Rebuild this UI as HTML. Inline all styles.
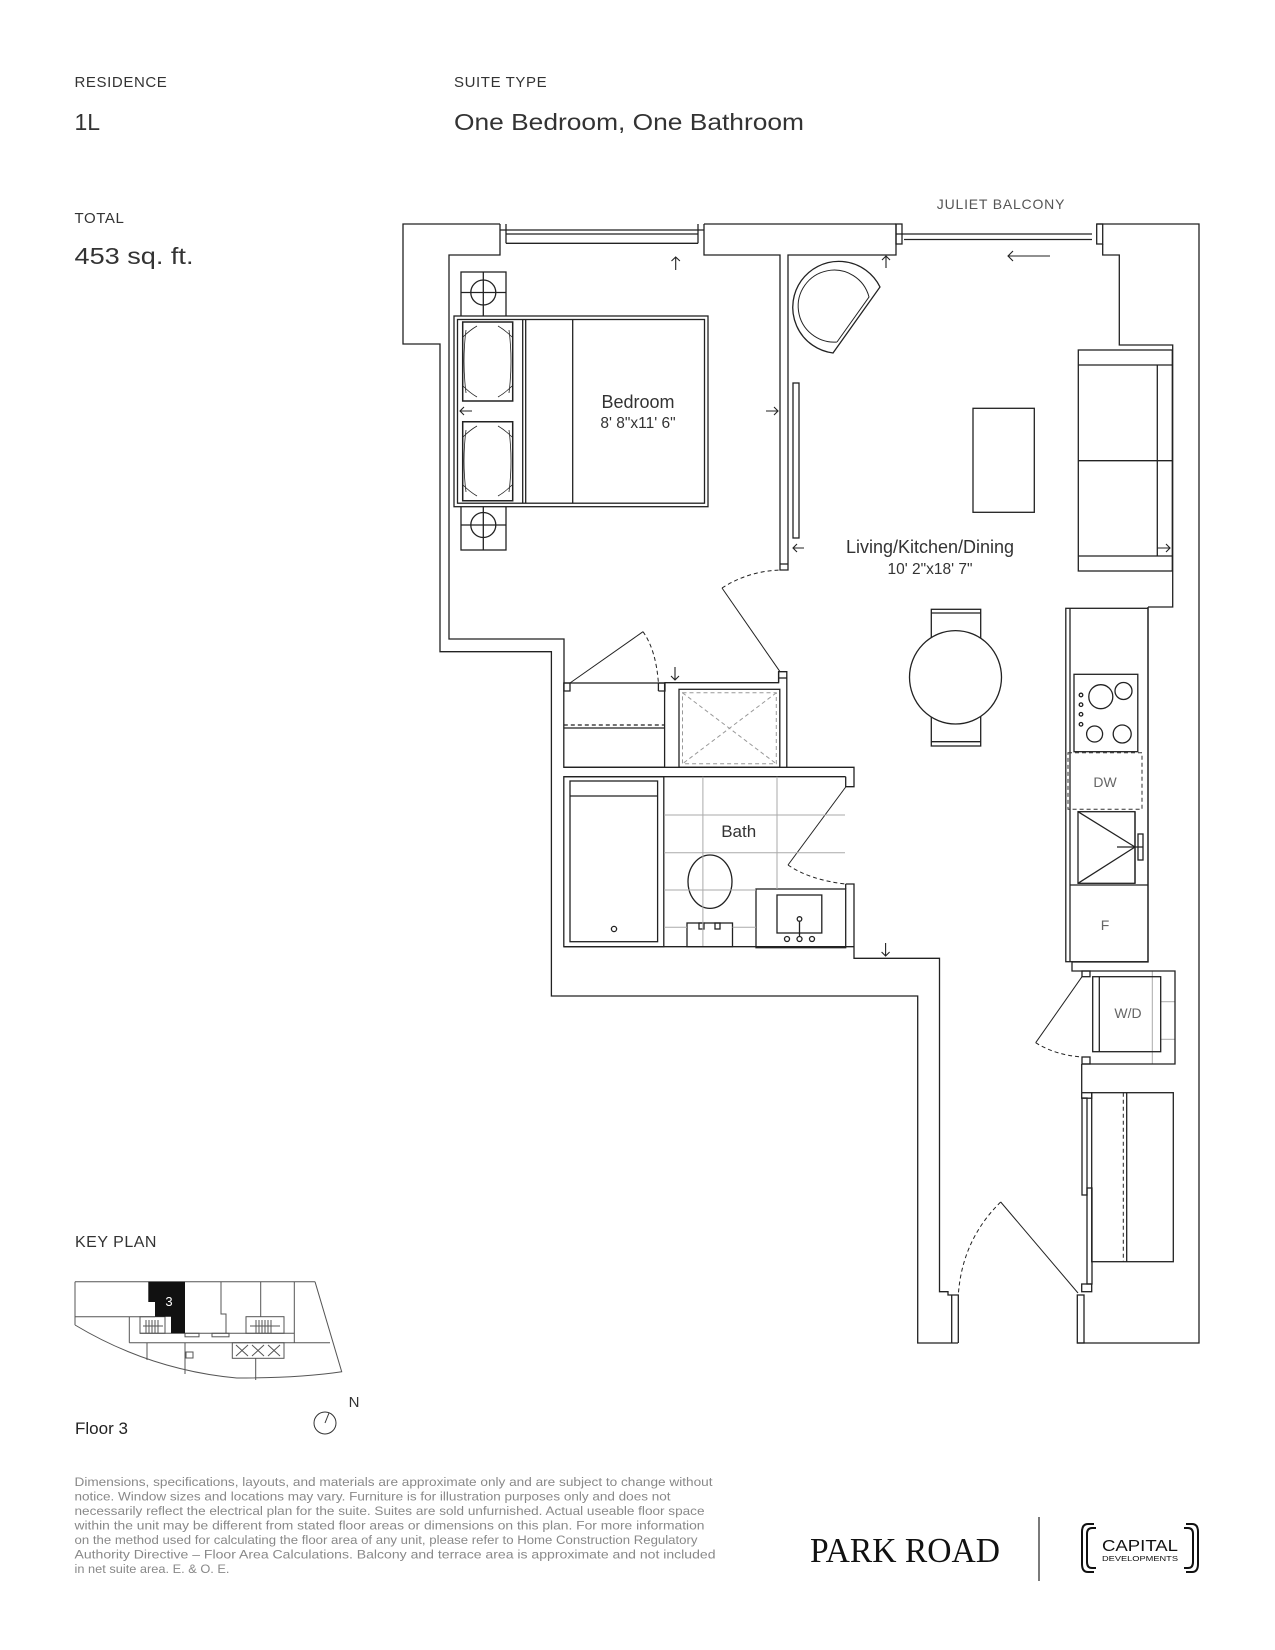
<!DOCTYPE html>
<html><head><meta charset="utf-8"><style>
html,body{margin:0;padding:0;background:#fff;}
svg{display:block;}
</style></head><body>
<svg width="1275" height="1650" viewBox="0 0 1275 1650" xmlns="http://www.w3.org/2000/svg" font-family="Liberation Sans, sans-serif">
<g fill="#333">
<text x="74.5" y="87" font-size="15" letter-spacing="0.6">RESIDENCE</text>
<text x="74.5" y="130" font-size="23">1L</text>
<text x="454" y="87" font-size="15" letter-spacing="0.6">SUITE TYPE</text>
<text x="454" y="130" font-size="23" textLength="350" lengthAdjust="spacingAndGlyphs">One Bedroom, One Bathroom</text>
<text x="74.5" y="223" font-size="15" letter-spacing="0.6">TOTAL</text>
<text x="74.5" y="264" font-size="23" textLength="119" lengthAdjust="spacingAndGlyphs">453 sq. ft.</text>
<text x="1001" y="209" font-size="14" fill="#555" text-anchor="middle" letter-spacing="0.8">JULIET BALCONY</text>
</g>

<g fill="none" stroke="#222" stroke-width="1.3">
<polyline points="500,224 403,224 403,344 440,344 440,651.7 551.4,651.7 551.4,996 917.7,996 917.7,1343 958,1343"/>
<polyline points="704,224 896,224"/>
<polyline points="1097,224 1199,224 1199,1343 1077,1343"/>
<polyline points="500,224 500,255 449,255 449,639 564,639 564,691 570,691 570,683 564,683"/>
<polyline points="704,224 704,255 780,255 780,570 788,570 788,255 896,255 896,224"/>
<line x1="780" y1="564" x2="788" y2="564"/>
<line x1="500" y1="230" x2="704" y2="230"/><line x1="506" y1="234" x2="698" y2="234"/><line x1="506" y1="243.3" x2="698" y2="243.3"/>
<line x1="506" y1="224" x2="506" y2="243.3"/><line x1="698" y1="224" x2="698" y2="243.3"/>
<line x1="896" y1="234" x2="1092" y2="234"/><line x1="904" y1="239.5" x2="1092" y2="239.5"/>
<rect x="1096.7" y="224" width="6" height="20"/>
<rect x="896" y="224" width="6" height="20"/>
<polyline points="1102.7,244 1102.7,255 1119.3,255 1119.3,345 1172.7,345 1172.7,607 1148,607"/>
<polyline points="658.4,691 665,691 665,682.7 778.6,682.7 778.6,671.7 786.8,671.7 786.8,767.3 854,767.3 854,786.7 845.7,786.7 845.7,776.7"/>
<line x1="658.4" y1="683" x2="665" y2="683"/><line x1="658.4" y1="683" x2="658.4" y2="691"/>
<line x1="778.6" y1="678" x2="786.8" y2="678"/><line x1="778.6" y1="671.7" x2="778.6" y2="682.7"/>
<rect x="563.8" y="683" width="100.8" height="84.3"/>
<line x1="563.8" y1="728" x2="664.6" y2="728"/>
<line x1="563.8" y1="725" x2="664.6" y2="725" stroke-dasharray="4,3"/>
<rect x="679" y="689.3" width="100.8" height="78"/>
<line x1="563.8" y1="767.3" x2="786.8" y2="767.3"/>
<line x1="563.8" y1="776.7" x2="845.7" y2="776.7"/>
<rect x="563.8" y="776.7" width="100" height="170"/>
<rect x="570" y="781" width="87.6" height="160.7"/>
<line x1="570" y1="796" x2="657.6" y2="796"/>
<circle cx="614" cy="929" r="2.6"/>
<polyline points="563.8,946.7 854,946.7"/>
<polyline points="845.7,884 854,884 854,958.3 939.5,958.3 939.5,1291.7 948,1291.7 948,1295 958.3,1295 958.3,1343"/>
<line x1="951.7" y1="1295" x2="951.7" y2="1343"/>
<line x1="845.7" y1="884" x2="845.7" y2="889"/>
<ellipse cx="710" cy="881.7" rx="22" ry="26.7"/>
<rect x="687" y="923" width="45.5" height="23.7"/>
<rect x="699" y="923" width="5" height="6"/><rect x="715" y="923" width="5" height="6"/>
<rect x="756" y="889" width="89.7" height="58.7"/>
<rect x="777" y="895" width="44.8" height="38"/>
<circle cx="799.5" cy="919" r="2.3"/><line x1="799.5" y1="922" x2="799.5" y2="936"/>
<circle cx="799.5" cy="939" r="2.5"/><circle cx="787" cy="939" r="2.5"/><circle cx="812" cy="939" r="2.5"/>
<line x1="570" y1="683" x2="643" y2="631.7" stroke-width="1"/>
<line x1="722" y1="588" x2="780" y2="671.7" stroke-width="1"/>
<line x1="845.7" y1="787" x2="788" y2="865" stroke-width="1"/>
<line x1="1082" y1="976.7" x2="1035.7" y2="1042.7" stroke-width="1"/>
<line x1="1000.7" y1="1202" x2="1078" y2="1293" stroke-width="1"/>
</g>
<g fill="none" stroke="#222" stroke-width="1" stroke-dasharray="4,3">
<path d="M643,631.7 Q656,650 658.4,683"/>
<path d="M722,588 Q750,570 784,570"/>
<path d="M788,865 Q810,880 845.7,884"/>
<path d="M1035.7,1042.7 Q1055,1055 1082,1057"/>
<path d="M1000.7,1202 Q962,1240 958.3,1295"/>
<line x1="1123.3" y1="1092.7" x2="1123.3" y2="1261.7"/>
</g>
<g fill="none" stroke="#999" stroke-width="1" stroke-dasharray="4,3">
<rect x="682.5" y="692.8" width="93.8" height="71"/>
<line x1="682.5" y1="692.8" x2="776.3" y2="763.8"/><line x1="776.3" y1="692.8" x2="682.5" y2="763.8"/>
</g>
<g stroke="#aaa" stroke-width="1">
<line x1="702.9" y1="776.7" x2="702.9" y2="946"/><line x1="777" y1="776.7" x2="777" y2="889"/>
<line x1="664" y1="815" x2="845" y2="815"/><line x1="664" y1="852.7" x2="845" y2="852.7"/>
<line x1="664" y1="890" x2="756" y2="890"/><line x1="664" y1="927.3" x2="687" y2="927.3"/><line x1="732.5" y1="927.3" x2="756" y2="927.3"/>
<line x1="1152.3" y1="971" x2="1152.3" y2="1064"/><line x1="1160.7" y1="1001.7" x2="1175" y2="1001.7"/><line x1="1160.7" y1="1039.3" x2="1175" y2="1039.3"/>
</g>
<g fill="none" stroke="#222" stroke-width="1.3">
<rect x="461" y="272" width="45" height="45"/><circle cx="483.3" cy="292.5" r="12.5"/>
<line x1="483.3" y1="272" x2="483.3" y2="317"/><line x1="461" y1="292.5" x2="506" y2="292.5"/>
<rect x="461" y="506" width="45" height="44"/><circle cx="483.3" cy="525" r="12.5"/>
<line x1="483.3" y1="506" x2="483.3" y2="550"/><line x1="461" y1="525" x2="506" y2="525"/>
<rect x="454" y="316" width="254" height="190.7" fill="#fff"/>
<rect x="457.5" y="319.5" width="247" height="183.7"/>
<line x1="522.7" y1="319.5" x2="522.7" y2="503"/><line x1="525.7" y1="319.5" x2="525.7" y2="503"/>
<line x1="572.7" y1="319.5" x2="572.7" y2="503"/>
<path d="M462.7,322 H512.7 V401 H462.7 Z M462.7,421.7 H512.7 V500.7 H462.7 Z" stroke-width="1.5"/>
<path d="M466,330 Q462,361 466,393 M509,330 Q513,361 509,393 M466,430 Q462,461 466,492 M509,430 Q513,461 509,492 M463,337 Q470,330 477,326 M512,337 Q505,330 498,326 M463,386 Q470,393 477,397 M512,386 Q505,393 498,397 M463,437 Q470,430 477,426 M512,437 Q505,430 498,426 M463,485 Q470,492 477,496 M512,485 Q505,492 498,496" stroke-width="0.8"/>
<path d="M833,353 L880,287 A46,46 0 1,0 833,353 Z"/>
<path d="M837,342 L869,297 A36,36 0 1,0 837,342" stroke-width="1"/>
<rect x="793" y="383" width="6" height="155"/>
<rect x="973" y="408.3" width="61.3" height="104"/>
<rect x="1078.3" y="350" width="94" height="221"/>
<line x1="1078.3" y1="365" x2="1172.3" y2="365"/><line x1="1078.3" y1="460.7" x2="1172.3" y2="460.7"/><line x1="1078.3" y1="556" x2="1172.3" y2="556"/>
<line x1="1157.3" y1="365" x2="1157.3" y2="556"/>
<rect x="931.3" y="609.3" width="49.4" height="136.7"/>
<line x1="931.3" y1="613" x2="980.7" y2="613"/><line x1="931.3" y1="741.7" x2="980.7" y2="741.7"/>
<ellipse cx="955.5" cy="677.3" rx="46" ry="46.7" fill="#fff"/>
<rect x="1065.8" y="608.3" width="82.2" height="353.4"/>
<line x1="1070" y1="608.3" x2="1070" y2="961.7"/>
<line x1="1070" y1="885" x2="1148" y2="885"/>
<rect x="1074" y="674.3" width="63.8" height="77.4"/>
<circle cx="1100.8" cy="696.7" r="12"/><circle cx="1123.5" cy="691" r="8.5"/>
<circle cx="1094.6" cy="734" r="8"/><circle cx="1122.2" cy="734" r="9"/>
<circle cx="1081" cy="695" r="1.8"/><circle cx="1081" cy="704.7" r="1.8"/><circle cx="1081" cy="714.3" r="1.8"/><circle cx="1081" cy="724.3" r="1.8"/>
<rect x="1078" y="811.7" width="57" height="71.6"/>
<line x1="1078" y1="811.7" x2="1135" y2="847"/><line x1="1078" y1="883.3" x2="1135" y2="847"/><line x1="1135" y1="811.7" x2="1135" y2="883.3"/>
<line x1="1117" y1="847" x2="1143" y2="847"/><rect x="1138" y="834" width="5" height="26"/>
<polyline points="1148,607 1148,962 1072,962 1072,971 1082,971"/>
<polyline points="1082,971 1175,971 1175,1064 1082,1064"/>
<rect x="1082" y="971" width="8" height="5.7"/><rect x="1082" y="1057" width="8" height="7"/>
<rect x="1092.7" y="976.7" width="68" height="75"/>
<line x1="1099.3" y1="976.7" x2="1099.3" y2="1051.7"/>
<line x1="1081.7" y1="1064" x2="1081.7" y2="1092"/>
<rect x="1081.7" y="1092.7" width="10" height="5.5"/>
<rect x="1091.7" y="1092.7" width="81.6" height="169"/>
<line x1="1126.7" y1="1092.7" x2="1126.7" y2="1261.7"/>
<rect x="1082" y="1098" width="5" height="97"/>
<rect x="1087" y="1188" width="5" height="96"/>
<rect x="1081.7" y="1284" width="10" height="7.7"/>
<rect x="1077.3" y="1295" width="6.7" height="48"/>
</g>
<rect x="1068" y="752.7" width="74" height="56.6" fill="none" stroke="#333" stroke-dasharray="4,3"/>
<g stroke="#222" stroke-width="1.1" fill="none">
<path d="M675.7,270 V257 M671.5,261 L675.7,257 L679.9,261"/>
<path d="M886,268 V256 M882,260 L886,256 L890,260"/>
<path d="M472,411 H460 M464,407 L460,411 L464,415"/>
<path d="M766,411 H778 M774,407 L778,411 L774,415"/>
<path d="M804,548 H793 M797,544 L793,548 L797,552"/>
<path d="M1050,256 H1008 M1013,251 L1008,256 L1013,261"/>
<path d="M1157,548 H1170 M1166,544 L1170,548 L1166,552"/>
<path d="M675,667 V680 M671,676 L675,680 L679,676"/>
<path d="M885.6,943 V956 M881.6,952 L885.6,956 L889.6,952"/>
</g>
<g fill="#333" text-anchor="middle">
<text x="638" y="408" font-size="18">Bedroom</text>
<text x="638" y="428" font-size="15.5">8' 8"x11' 6"</text>
<text x="930" y="553" font-size="18">Living/Kitchen/Dining</text>
<text x="930" y="574" font-size="15.5">10' 2"x18' 7"</text>
<text x="738.7" y="837" font-size="17">Bath</text>
<text x="1105" y="787" font-size="14" fill="#666">DW</text>
<text x="1128" y="1018" font-size="14" fill="#666">W/D</text>
<text x="1105" y="930" font-size="14" fill="#666">F</text>
</g>

<text x="75" y="1247" font-size="16" fill="#333" letter-spacing="0.5">KEY PLAN</text>
<g fill="none" stroke="#555" stroke-width="1">
<line x1="75" y1="1281.7" x2="315" y2="1281.7"/>
<line x1="75" y1="1281.7" x2="75" y2="1325"/>
<line x1="75" y1="1316.7" x2="155" y2="1316.7"/>
<path d="M75,1325 Q150,1370 236.7,1378 Q300,1378 341.7,1371.7 L315,1281.7"/>
<line x1="129.3" y1="1316.7" x2="129.3" y2="1342.7"/>
<line x1="129.3" y1="1342.7" x2="330" y2="1342.7"/>
<line x1="140" y1="1333.3" x2="294.3" y2="1333.3"/>
<line x1="140" y1="1316.7" x2="140" y2="1333.3"/>
<polyline points="221,1281.7 221,1314 226,1314 226,1333.3"/>
<line x1="260.7" y1="1281.7" x2="260.7" y2="1316.7"/>
<line x1="294.3" y1="1281.7" x2="294.3" y2="1342.7"/>
<rect x="140" y="1316.7" width="25" height="16.6"/>
<rect x="246" y="1316.7" width="38" height="16.6"/>
<path d="M146,1320 V1333 M149,1320 V1333 M152,1320 V1333 M155,1320 V1333 M158,1320 V1333 M256,1320 V1333 M259,1320 V1333 M262,1320 V1333 M265,1320 V1333 M268,1320 V1333 M271,1320 V1333 M143,1326 H163 M250,1326 H280"/>
<rect x="185" y="1333.3" width="14" height="3.5"/><rect x="212" y="1333.3" width="17" height="3.5"/>
<rect x="232.3" y="1342.7" width="51.7" height="15.6"/>
<path d="M236,1345 L248,1356 M248,1345 L236,1356 M252,1345 L264,1356 M264,1345 L252,1356 M268,1345 L280,1356 M280,1345 L268,1356"/>
<line x1="147" y1="1342.7" x2="147" y2="1360"/>
<line x1="185" y1="1342.7" x2="185" y2="1374"/>
<rect x="186" y="1352" width="7" height="6"/>
<line x1="255.7" y1="1358.3" x2="255.7" y2="1380"/>
</g>
<polygon points="148.3,1281.7 185,1281.7 185,1333.3 171,1333.3 171,1316.7 155,1316.7 155,1302 148.3,1302" fill="#111"/>
<text x="169" y="1306" font-size="13" fill="#fff" text-anchor="middle">3</text>
<text x="75" y="1434" font-size="17" fill="#222">Floor 3</text>
<circle cx="325" cy="1423" r="11" fill="none" stroke="#333" stroke-width="1"/>
<line x1="325" y1="1423" x2="329" y2="1413" stroke="#333" stroke-width="1"/>
<text x="354" y="1407" font-size="15" fill="#333" text-anchor="middle">N</text>

<g font-size="12.3" fill="#888">
<text x="74.5" y="1486" textLength="638" lengthAdjust="spacingAndGlyphs">Dimensions, specifications, layouts, and materials are approximate only and are subject to change without</text>
<text x="74.5" y="1500.5" textLength="596" lengthAdjust="spacingAndGlyphs">notice. Window sizes and locations may vary. Furniture is for illustration purposes only and does not</text>
<text x="74.5" y="1515" textLength="630" lengthAdjust="spacingAndGlyphs">necessarily reflect the electrical plan for the suite. Suites are sold unfurnished. Actual useable floor space</text>
<text x="74.5" y="1529.5" textLength="630" lengthAdjust="spacingAndGlyphs">within the unit may be different from stated floor areas or dimensions on this plan. For more information</text>
<text x="74.5" y="1544" textLength="623" lengthAdjust="spacingAndGlyphs">on the method used for calculating the floor area of any unit, please refer to Home Construction Regulatory</text>
<text x="74.5" y="1558.5" textLength="641" lengthAdjust="spacingAndGlyphs">Authority Directive – Floor Area Calculations. Balcony and terrace area is approximate and not included</text>
<text x="74.5" y="1573" textLength="155" lengthAdjust="spacingAndGlyphs">in net suite area. E. &amp; O. E.</text>
</g>

<text x="810" y="1562" style="font-family:'Liberation Serif',serif" font-size="35" fill="#111" textLength="190" lengthAdjust="spacingAndGlyphs">PARK ROAD</text>
<line x1="1039" y1="1517" x2="1039" y2="1581" stroke="#333" stroke-width="1.3"/>
<g fill="none" stroke="#111" stroke-width="2">
<path d="M1094,1524 H1088 Q1082,1524 1082,1532 V1564 Q1082,1572 1088,1572 H1094"/>
<path d="M1096,1528 H1092 Q1087,1528 1087,1534 V1562 Q1087,1568 1092,1568 H1096"/>
<path d="M1186,1524 H1192 Q1198,1524 1198,1532 V1564 Q1198,1572 1192,1572 H1186"/>
<path d="M1184,1528 H1188 Q1193,1528 1193,1534 V1562 Q1193,1568 1188,1568 H1184"/>
</g>
<text x="1140" y="1551" font-size="16" fill="#111" text-anchor="middle" textLength="76" lengthAdjust="spacingAndGlyphs">CAPITAL</text>
<text x="1140" y="1561" font-size="7" fill="#111" text-anchor="middle" textLength="76" lengthAdjust="spacingAndGlyphs">DEVELOPMENTS</text>
</svg>
</body></html>
